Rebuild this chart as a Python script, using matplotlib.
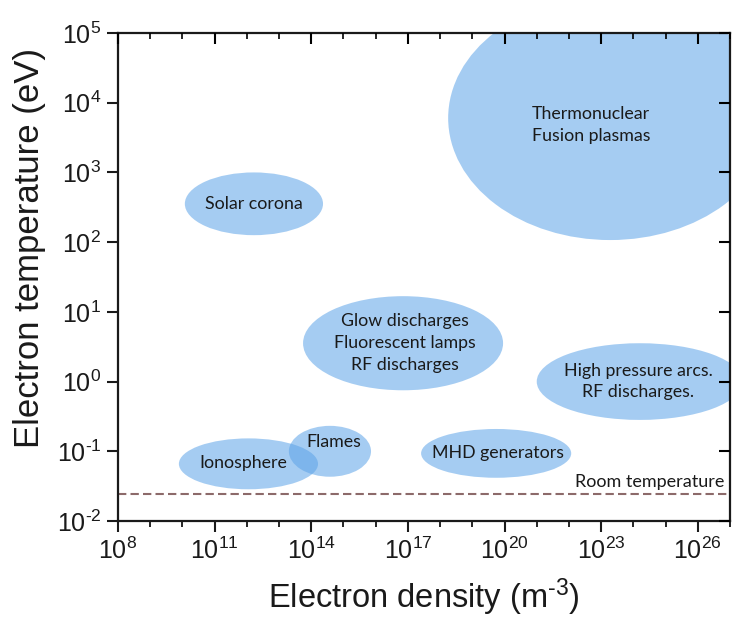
import numpy as np
import matplotlib
matplotlib.use("Agg")
import matplotlib.pyplot as plt
from matplotlib.patches import Ellipse
from matplotlib.ticker import FixedLocator, FuncFormatter, NullFormatter

plt.rcParams['font.family'] = ['Liberation Sans', 'DejaVu Sans']
plt.rcParams['mathtext.fontset'] = 'custom'
plt.rcParams['mathtext.rm'] = 'Liberation Sans'
plt.rcParams['mathtext.it'] = 'Liberation Sans'

# plasma regions, in decades (log10 of density / temperature)
regions = ['Solar corona', 'Thermonuclear\nFusion plasmas',
           'Glow discharges\nFluorescent lamps\nRF discharges',
           'High pressure arcs.\nRF discharges.', 'MHD generators',
           'Ionosphere', 'Flames']
log_ne = [12.22, 23.28, 16.85, 24.2, 19.74, 12.05, 14.58]
log_te = [2.55, 3.78, 0.55, 0.0, -1.03, -1.18, -1.0]
span_ne = [4.29, 10.06, 6.21, 6.4, 4.66, 4.32, 2.55]
span_te = [0.90, 3.50, 1.35, 1.10, 0.70, 0.73, 0.73]
# label positions (decades)
label_ne = [12.22, 22.69, 16.9, 24.15, 19.8, 11.9, 14.7]
label_te = [2.55, 3.68, 0.55, 0.0, -1.03, -1.17, -0.86]

room_temp = 0.024  # eV


def pow10(v, pos):
    e = int(round(np.log10(v)))
    return r'$10^{\text{%d}}$' % e


fig = plt.figure(figsize=(7.53, 6.30), dpi=100)
ax = fig.add_axes([118 / 753, 1 - 521 / 630, 612 / 753, 488 / 630])
ax.set_xscale('log')
ax.set_yscale('log')
ax.set_xlim(1e8, 1e27)
ax.set_ylim(1e-2, 1e5)

# draw ellipses in log space (transData without the log scale step)
logspace = ax.transLimits + ax.transAxes
for x, y, w, h in zip(log_ne, log_te, span_ne, span_te):
    ax.add_patch(Ellipse((x, y), w, h, transform=logspace,
                         facecolor='#5ca3e8', edgecolor='none', alpha=0.55,
                         zorder=1))

for name, x, y in zip(regions, label_ne, label_te):
    ax.text(x, y, name, transform=logspace, ha='center', va='center',
            fontsize=12.8, family=['Lato', 'DejaVu Sans'], color='#1a1a1a',
            linespacing=1.45, zorder=4)

ax.axhline(room_temp, ls=(0, (4, 2)), color='#8c6a6a', lw=1.5, zorder=2)
ax.text(0.99, 0.08, 'Room temperature', transform=ax.transAxes,
        ha='right', va='center', fontsize=13, family=['Lato', 'DejaVu Sans'],
        color='#1a1a1a')

x_major = 10.0 ** np.arange(8, 27, 3)
x_minor = 10.0 ** np.arange(8, 28)
y_major = 10.0 ** np.arange(-2, 6)

ax.xaxis.set_major_locator(FixedLocator(x_major))
ax.xaxis.set_minor_locator(FixedLocator(x_minor))
ax.xaxis.set_minor_formatter(NullFormatter())
ax.xaxis.set_major_formatter(FuncFormatter(pow10))
ax.yaxis.set_major_locator(FixedLocator(y_major))
ax.yaxis.set_minor_locator(FixedLocator([]))
ax.yaxis.set_major_formatter(FuncFormatter(pow10))
ax.tick_params(which='major', direction='out', length=8, width=1.5,
               labelsize=18, colors='#1a1a1a', pad=4)
ax.tick_params(which='minor', direction='out', length=4, width=1.2)
for s in ax.spines.values():
    s.set_linewidth(1.6)
    s.set_color('#1a1a1a')

# inward ticks on top and right
tx = ax.twiny()
tx.set_xscale('log')
tx.set_xlim(ax.get_xlim())
tx.xaxis.set_major_locator(FixedLocator(x_major))
tx.xaxis.set_minor_locator(FixedLocator(x_minor))
tx.tick_params(which='both', labeltop=False, labelbottom=False)
tx.tick_params(which='major', direction='in', length=8, width=1.5)
tx.tick_params(which='minor', direction='in', length=4, width=1.2)
ty = ax.twinx()
ty.set_yscale('log')
ty.set_ylim(ax.get_ylim())
ty.yaxis.set_major_locator(FixedLocator(y_major))
ty.yaxis.set_minor_locator(FixedLocator([]))
ty.tick_params(which='both', labelright=False, labelleft=False)
ty.tick_params(which='major', direction='in', length=8, width=1.5)
for t in (tx, ty):
    for s in t.spines.values():
        s.set_visible(False)

fig.text(424 / 753, 1 - 597 / 630, r'Electron density (m$^{\text{-3}}$)',
         ha='center', va='center', fontsize=23.5, color='#1a1a1a')
fig.text(30 / 753, 1 - 248 / 630, 'Electron temperature (eV)',
         ha='center', va='center', rotation=90, fontsize=25,
         color='#1a1a1a')

fig.savefig('out.png', dpi=100)
